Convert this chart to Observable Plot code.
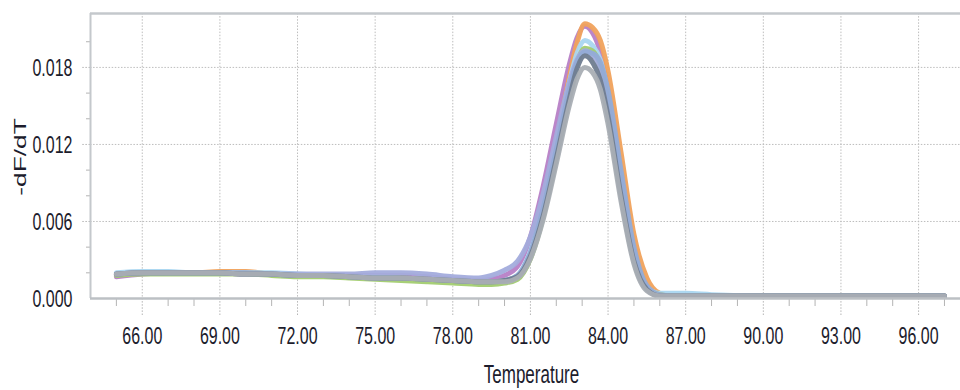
<!DOCTYPE html>
<html>
<head>
<meta charset="utf-8">
<script src="https://cdn.jsdelivr.net/npm/d3@7"></script>
<script src="https://cdn.jsdelivr.net/npm/@observablehq/plot@0.6"></script>
<style>
  html, body { margin: 0; padding: 0; background: #fff; }
  #chart svg text { fill: #1c1c2c; }
</style>
</head>
<body>
<div id="chart"></div>
<script>
// Temperatures (°C) at which each melt curve was read
const temps = [65, 66, 67, 68, 69, 70, 71, 72, 73, 74, 75, 76, 77, 78, 79, 79.5, 80, 80.5, 81, 81.5, 82, 82.5, 82.8, 83.1, 83.4, 83.7, 84, 84.5, 85, 85.5, 86, 86.5, 87, 88, 90, 92, 94, 96, 97];

// -dF/dT values per well
const purple     = [0.0017,0.0019,0.0020,0.0020,0.0020,0.0019,0.0019,0.0018,0.0018,0.0018,0.0018,0.0018,0.0017,0.0015,0.0014,0.0015,0.0018, 0.0025,0.0048,0.0088,0.0136,0.0182,0.0203,0.0212,0.0207,0.0192,0.0162,0.0096,0.0036,0.0008,0.0003, 0.0002,0.0002,0.0002,0.0002,0.0002,0.0002,0.0002,0.0002];
const orange     = [0.0019,0.0020,0.0020,0.0020,0.0021,0.0021,0.0019,0.0018,0.0018,0.0017,0.0017,0.0016,0.0015,0.0014,0.0013,0.0013,0.0014, 0.0017,0.0034,0.0070,0.0120,0.0172,0.0199,0.0214,0.0211,0.0201,0.0177,0.0114,0.0050,0.0016,0.0004, 0.0002,0.0002,0.0002,0.0002,0.0002,0.0002,0.0002,0.0002];
const lightBlue  = [0.0020,0.0021,0.0021,0.0020,0.0020,0.0020,0.0020,0.0019,0.0018,0.0017,0.0017,0.0016,0.0015,0.0014,0.0013,0.0013,0.0014, 0.0018,0.0037,0.0073,0.0120,0.0168,0.0191,0.0201,0.0197,0.0186,0.0159,0.0095,0.0037,0.0009,0.0004, 0.0004,0.0004,0.0003,0.0002,0.0002,0.0002,0.0002,0.0002];
const green      = [0.0018,0.0019,0.0019,0.0019,0.0019,0.0019,0.0018,0.0017,0.0017,0.0016,0.0015,0.0014,0.0013,0.0012,0.0011,0.0011,0.0012, 0.0015,0.0031,0.0064,0.0110,0.0158,0.0183,0.0195,0.0193,0.0181,0.0154,0.0092,0.0035,0.0008,0.0003, 0.0002,0.0002,0.0002,0.0002,0.0002,0.0002,0.0002,0.0002];
const periwinkle = [0.0019,0.0020,0.0020,0.0020,0.0020,0.0019,0.0019,0.0019,0.0019,0.0019,0.0020,0.0020,0.0019,0.0017,0.0016,0.0018,0.0022, 0.0029,0.0048,0.0082,0.0126,0.0168,0.0186,0.0193,0.0190,0.0179,0.0153,0.0091,0.0034,0.0008,0.0002, 0.0002,0.0002,0.0002,0.0002,0.0002,0.0002,0.0002,0.0002];
const steelBlue  = [0.0019,0.0020,0.0020,0.0020,0.0020,0.0020,0.0019,0.0018,0.0018,0.0017,0.0016,0.0016,0.0015,0.0014,0.0013,0.0013,0.0014, 0.0018,0.0036,0.0071,0.0116,0.0162,0.0184,0.0192,0.0191,0.0184,0.0162,0.0100,0.0040,0.0010,0.0003, 0.0002,0.0002,0.0002,0.0002,0.0002,0.0002,0.0002,0.0002];
const darkSlate  = [0.0019,0.0020,0.0020,0.0020,0.0020,0.0019,0.0019,0.0018,0.0018,0.0017,0.0016,0.0016,0.0015,0.0014,0.0013,0.0013,0.0014, 0.0017,0.0033,0.0065,0.0109,0.0155,0.0179,0.0189,0.0184,0.0170,0.0142,0.0080,0.0029,0.0007,0.0002, 0.0002,0.0002,0.0002,0.0002,0.0002,0.0002,0.0002,0.0002];
const gray       = [0.0019,0.0020,0.0020,0.0020,0.0020,0.0019,0.0019,0.0018,0.0018,0.0017,0.0016,0.0016,0.0015,0.0014,0.0013,0.0013,0.0013, 0.0016,0.0031,0.0062,0.0105,0.0150,0.0171,0.0180,0.0176,0.0163,0.0136,0.0076,0.0027,0.0006,0.0002, 0.0002,0.0002,0.0002,0.0002,0.0002,0.0002,0.0002,0.0002];

const seriesNames  = ["purple", "orange", "lightBlue", "green", "periwinkle", "steelBlue", "darkSlate", "gray"];
const seriesValues = [purple, orange, lightBlue, green, periwinkle, steelBlue, darkSlate, gray];
const seriesColors = ["#b77fc6", "#f0a25c", "#a9d6f0", "#a2cc70", "#a3acdc", "#93abd6", "#6f7c90", "#a9aeb4"];

const xDomain = [64, 97.62];
const yDomain = [0, 0.0222];
const xMajor = [66, 69, 72, 75, 78, 81, 84, 87, 90, 93, 96];
const xMinor = [65, 67, 68, 70, 71, 73, 74, 76, 77, 79, 80, 82, 83, 85, 86, 88, 89, 91, 92, 94, 95, 97];
const yMajor = [0, 0.006, 0.012, 0.018];
const yGrid  = [0.006, 0.012, 0.018];
const yMinor = [0.002, 0.004, 0.008, 0.010, 0.014, 0.016, 0.020];
const xTitle = "Temperature";
const yTitle = "-dF/dT";

const rows = [];
seriesNames.forEach((s, i) => temps.forEach((t, j) => rows.push({s, t, v: seriesValues[i][j]})));

const dotted = "1.5,1.6";
const gridColor = "#bdbdbd";
const frameColor = "#c4c8cc";

const svg = Plot.plot({
  width: 960,
  height: 390,
  marginLeft: 90,
  marginRight: 0,
  marginTop: 13,
  marginBottom: 92,
  style: {fontFamily: "Liberation Sans, Arial, sans-serif", fontSize: "16px", background: "#fff", overflow: "visible"},
  x: {domain: xDomain, axis: null},
  y: {domain: yDomain, axis: null},
  color: {domain: seriesNames, range: seriesColors},
  marks: [
    Plot.gridX(xMajor, {stroke: gridColor, strokeOpacity: 1, strokeDasharray: dotted}),
    Plot.gridY(yGrid, {stroke: gridColor, strokeOpacity: 1, strokeDasharray: dotted}),
    Plot.axisX({ticks: xMinor, tickSize: 8, tickFormat: () => "", label: null, stroke: "#b4b4b4"}),
    Plot.axisX({ticks: xMajor, tickSize: 18, tickFormat: () => "", label: null, stroke: "#b4b4b4", strokeDasharray: dotted}),
    Plot.axisX({ticks: xMajor, tickSize: 0, tickPadding: 31, label: null, tickFormat: d => d.toFixed(2)}),
    Plot.axisY({ticks: yMinor, tickSize: 4, tickFormat: () => "", label: null, stroke: "#b4b4b4"}),
    Plot.axisY({ticks: yGrid, tickSize: 9, tickFormat: () => "", label: null, stroke: "#b4b4b4", strokeDasharray: dotted}),
    Plot.axisY({ticks: yMajor, tickSize: 0, tickPadding: 18, label: null, tickFormat: d3.format(".3f")}),
    Plot.ruleY([yDomain[1]], {stroke: frameColor, strokeWidth: 2.5}),
    Plot.ruleX([xDomain[0]], {stroke: frameColor, strokeWidth: 2}),
    Plot.line(rows, {x: "t", y: "v", z: "s", stroke: "s", strokeWidth: 5, curve: "monotone-x", strokeOpacity: 0.95}),
    Plot.ruleY([yDomain[0]], {stroke: "#bcc0c4", strokeWidth: 2.5}),
    Plot.text([xTitle], {frameAnchor: "bottom", dy: 76, dx: 6, fontSize: 17, lineAnchor: "middle", textAnchor: "middle"}),
    Plot.text([yTitle], {frameAnchor: "left", dx: -70, dy: 1, rotate: -90, fontSize: 17, lineAnchor: "middle", textAnchor: "middle"})
  ]
});
document.getElementById("chart").appendChild(svg);

// The reference text is tall and narrow: stretch each label vertically about its centre
const S = 1.55;
const sr = svg.getBoundingClientRect();
svg.querySelectorAll("text").forEach(t => {
  const r = t.getBoundingClientRect();
  const cy = r.top + r.height / 2 - sr.top;
  const p = t.parentNode;
  const m = p.getCTM();
  const tx = m ? m.e : 0, ty = m ? m.f : 0;
  const g = document.createElementNS("http://www.w3.org/2000/svg", "g");
  g.setAttribute("transform", `translate(${-tx},${-ty}) translate(0,${cy}) scale(1,${S}) translate(0,${-cy}) translate(${tx},${ty})`);
  p.insertBefore(g, t);
  g.appendChild(t);
});
</script>
</body>
</html>
